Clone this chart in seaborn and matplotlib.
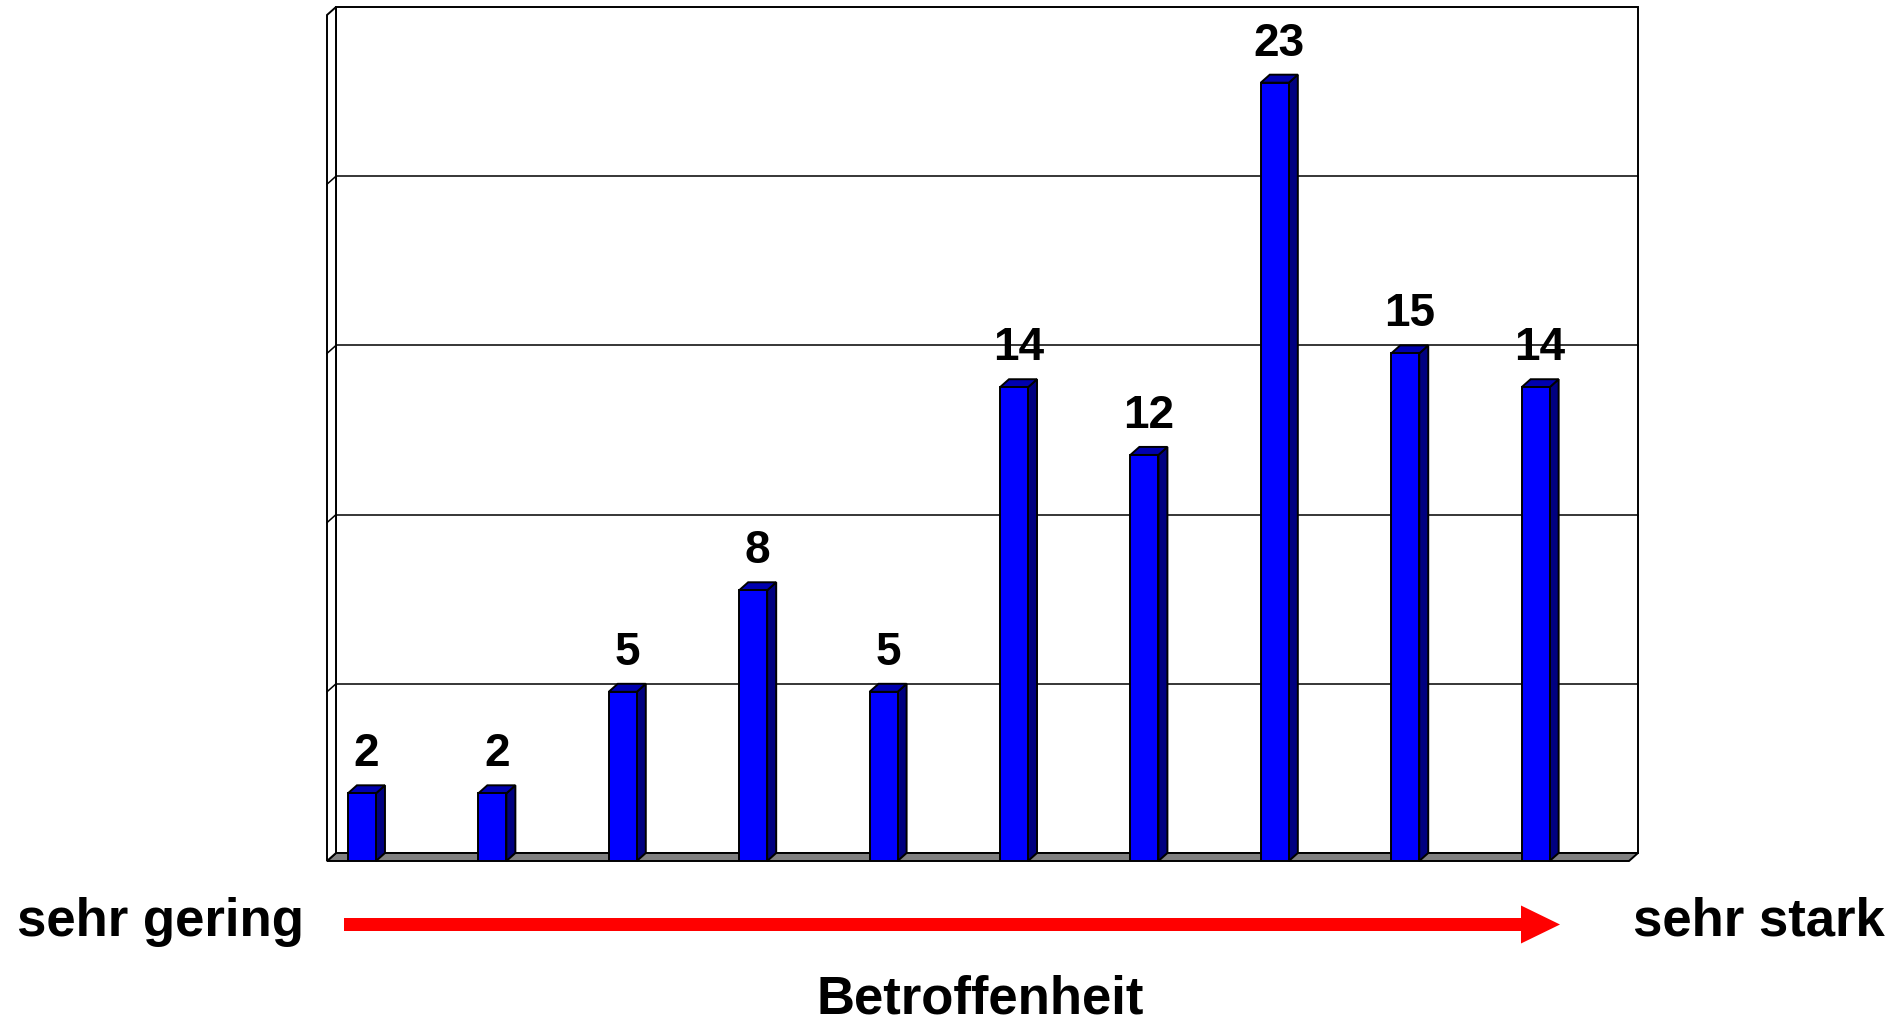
import numpy as np
import pandas as pd
import seaborn as sns
import matplotlib.pyplot as plt
from matplotlib.patches import Polygon, Rectangle, FancyArrow

# Daten: Betroffenheit von sehr gering (1) bis sehr stark (10)
stufen = ["1", "2", "3", "4", "5", "6", "7", "8", "9", "10"]
anzahl = [2, 2, 5, 8, 5, 14, 12, 23, 15, 14]
gitter = [5, 10, 15, 20]
y_max = 25

plt.rcParams['font.family'] = ['Liberation Sans', 'DejaVu Sans']

W, H = 1904, 1024
lw = 1.4
fig = plt.figure(figsize=(W / 100, H / 100), dpi=100)
# vordere Ebene des Diagramms (Pixelangaben von oben links)
ax = fig.add_axes([327 / W, 1 - 861 / H, (1629 - 327) / W, (861 - 15) / H])

df = pd.DataFrame({"stufe": stufen, "anzahl": anzahl})
sns.barplot(data=df, x="stufe", y="anzahl", color="#0000ff", saturation=1,
            width=0.215, edgecolor="black", linewidth=lw, ax=ax, zorder=3)
balken = list(ax.patches)

xl, xr = -0.268, 9.716
ax.set_xlim(xl, xr)
ax.set_ylim(0, y_max)
ax.axis("off")

# Tiefenversatz (9 px nach rechts, 8 px nach oben) in Datenkoordinaten
inv = ax.transData.inverted()
p0 = inv.transform((0, 0))
p1 = inv.transform((9, 8))
dx, dy = p1 - p0

# Boden
ax.add_patch(Polygon([(xl, 0), (xr, 0), (xr + dx, dy), (xl + dx, dy)],
                     closed=True, fc="#808080", ec="black", lw=lw,
                     zorder=1, clip_on=False))
# linke Wand
ax.add_patch(Polygon([(xl, 0), (xl + dx, dy), (xl + dx, y_max + dy), (xl, y_max)],
                     closed=True, fc="white", ec="black", lw=lw,
                     zorder=1, clip_on=False))
# Rueckwand
ax.add_patch(Rectangle((xl + dx, dy), xr - xl, y_max, fc="white", ec="black",
                       lw=lw, zorder=0.5, clip_on=False))
for g in gitter:
    ax.plot([xl + dx, xr + dx], [g + dy, g + dy], color="black", lw=1.1,
            zorder=0.8, clip_on=False)
    ax.plot([xl, xl + dx], [g, g + dy], color="black", lw=1.1,
            zorder=1.2, clip_on=False)

# 3D-Seiten und Deckel der Saeulen, Werte darueber
for p, v in zip(balken, anzahl):
    x0, w, h = p.get_x(), p.get_width(), p.get_height()
    ax.add_patch(Polygon([(x0 + w, 0), (x0 + w + dx, dy), (x0 + w + dx, h + dy), (x0 + w, h)],
                         closed=True, fc="#000080", ec="black", lw=lw,
                         zorder=2.9, clip_on=False))
    ax.add_patch(Polygon([(x0, h), (x0 + w, h), (x0 + w + dx, h + dy), (x0 + dx, h + dy)],
                         closed=True, fc="#0000b0", ec="black", lw=lw,
                         zorder=2.9, clip_on=False))
    ax.text(x0 + w / 2 + dx / 2, h + 0.8, str(v), ha="center", va="baseline",
            fontsize=33, fontweight="bold", zorder=5, clip_on=False)

# roter Pfeil und Beschriftung
fig.patches.append(FancyArrow(344 / 100, (H - 924.5) / 100, (1560 - 344) / 100, 0,
                              width=0.13, head_width=0.38, head_length=0.39,
                              length_includes_head=True, color="#ff0000", lw=0,
                              transform=fig.dpi_scale_trans, figure=fig))

fig.text(17 / W, 1 - 936 / H, "sehr gering", ha="left", va="baseline",
         fontsize=38, fontweight="bold")
fig.text(1633 / W, 1 - 936 / H, "sehr stark", ha="left", va="baseline",
         fontsize=38, fontweight="bold")
fig.text(980 / W, 1 - 1013 / H, "Betroffenheit", ha="center", va="baseline",
         fontsize=38, fontweight="bold")

fig.savefig("out.png", dpi=100, facecolor="white")
